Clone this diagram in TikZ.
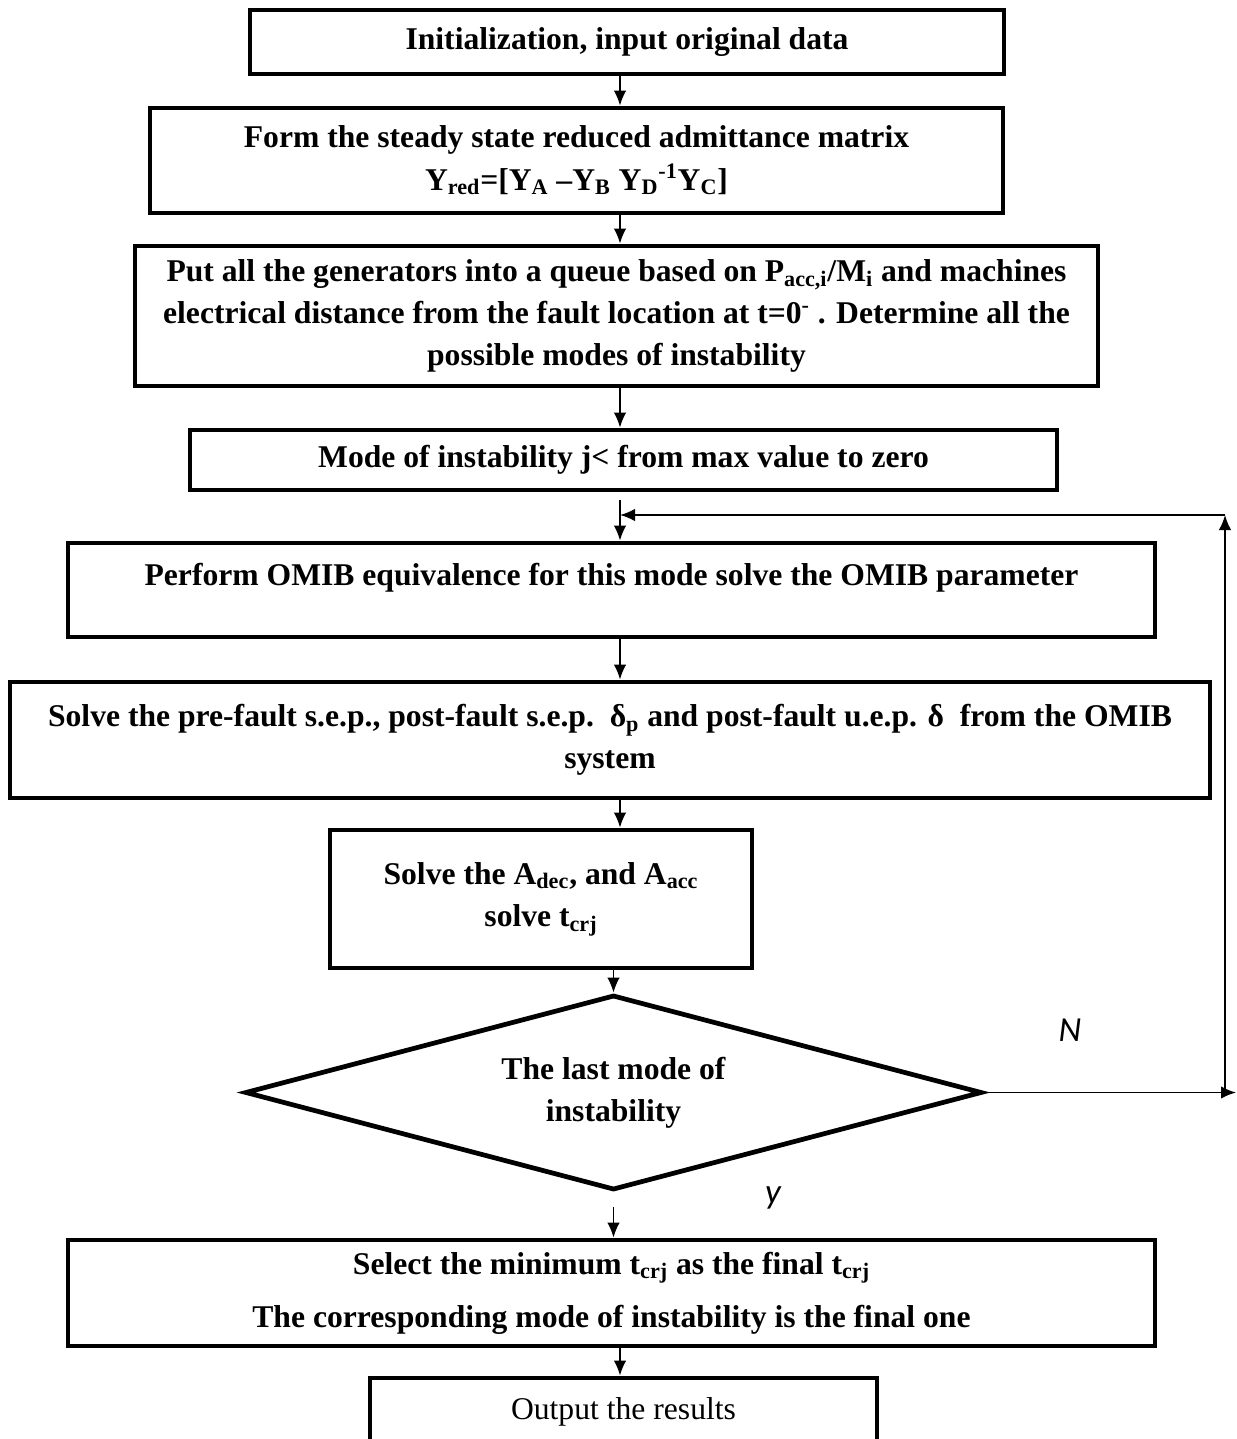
\documentclass[tikz,border=0pt]{standalone}
\usepackage{fontspec}
\setmainfont{Liberation Serif}
\setsansfont{Carlito}
\usetikzlibrary{shapes.geometric, arrows.meta, positioning}

\begin{document}
\begin{tikzpicture}
        \tikzstyle{process} = [rectangle, draw = black, line width = 2.7pt, align = center, inner sep = 0pt, font = \fontsize{18}{24}\selectfont\bfseries]
        \tikzstyle{decision} = [diamond, aspect = 3.78, draw = black, line width = 2.7pt, align = center, inner sep = 0pt, font = \fontsize{18}{24}\selectfont\bfseries]
        \tikzstyle{connect} = [-{Latex[length = 3mm, width = 2.5mm]}, line width = 1pt]
        \tikzstyle{branch} = [font = \fontsize{20}{24}\selectfont\sffamily\itshape]
        \path[use as bounding box, clip] (0,0) rectangle (24.74,-28.78);
        \coordinate (spine) at (12.4,0);
        \node[process, minimum width = 15.08cm, minimum height = 1.28cm] (init) at (12.54,-0.84) {Initialization, input original data};
        \node[process, minimum width = 17.06cm, minimum height = 2.1cm] (ybus) at (11.53,-3.21) {Form the steady state reduced admittance matrix\\ Y\textsubscript{red}=[Y\textsubscript{A} –Y\textsubscript{B} Y\textsubscript{D}\textsuperscript{-1}Y\textsubscript{C}]};
        \node[process, minimum width = 19.26cm, minimum height = 2.8cm] (queue) at (12.33,-6.32) {Put all the generators into a queue based on P\textsubscript{acc,i}/M\textsubscript{i} and machines\\ electrical distance from the fault location at t=0\textsuperscript{-} . Determine all the\\ possible modes of instability};
        \node[process, minimum width = 17.34cm, minimum height = 1.2cm] (modes) at (12.47,-9.2) {Mode of instability j< from max value to zero};
        \node[process, minimum width = 21.74cm, minimum height = 1.88cm, text depth = 0.62cm] (omib) at (12.23,-11.8) {Perform OMIB equivalence for this mode solve the OMIB parameter};
        \node[process, minimum width = 24cm, minimum height = 2.32cm] (sep) at (12.2,-14.8) {Solve the pre-fault s.e.p., post-fault s.e.p.\ \ δ\textsubscript{p} and post-fault u.e.p. δ\ \ from the OMIB\\ system};
        \node[process, minimum width = 8.44cm, minimum height = 2.76cm] (area) at (10.82,-17.98) {Solve the A\textsubscript{dec}, and A\textsubscript{acc}\\ solve t\textsubscript{crj}};
        \node[decision, minimum width = 14.74cm, minimum height = 3.9cm] (last) at (12.27,-21.85) {The last mode of\\ instability};
        \node[process, minimum width = 21.74cm, minimum height = 2.12cm] (select) at (12.23,-25.86) {Select the minimum t\textsubscript{crj} as the final t\textsubscript{crj}\\[0.22cm] The corresponding mode of instability is the final one};
        \node[process, font = \fontsize{18}{24}\selectfont, minimum width = 10.14cm, minimum height = 1.36cm] (output) at (12.47,-28.24) {Output the results};
        \node[branch] (no) at (21.4,-20.6) {N};
        \node[branch] (yes) at (15.46,-23.96) {y};
        % main flow
        \draw[connect] (init.south -| spine) -- (ybus.north -| spine);
        \draw[connect] (ybus.south -| spine) -- (queue.north -| spine);
        \draw[connect] (queue.south -| spine) -- (modes.north -| spine);
        \draw[connect, shorten < = 0.16cm] (modes.south -| spine) -- (omib.north -| spine);
        \draw[connect] (omib.south -| spine) -- (sep.north -| spine);
        \draw[connect] (sep.south -| spine) -- (area.north -| spine);
        \draw[connect] (area.south -| last.north) -- (last.north);
        \draw[connect, shorten < = 0.3cm] (last.south) -- (last.south |- select.north);
        \draw[connect] (select.south -| spine) -- (output.north -| spine);
        % loop back for the next mode
        \coordinate (nout) at (24.72,0 |- last.east);
        \coordinate (corner) at (24.5,0 |- last.east);
        \coordinate (back) at (24.5,-10.3);
        \draw[connect] (last.east) -- (nout);
        \draw[connect] (corner) -- (back);
        \draw[connect] (back) -- (back -| spine);
\end{tikzpicture}
\end{document}
